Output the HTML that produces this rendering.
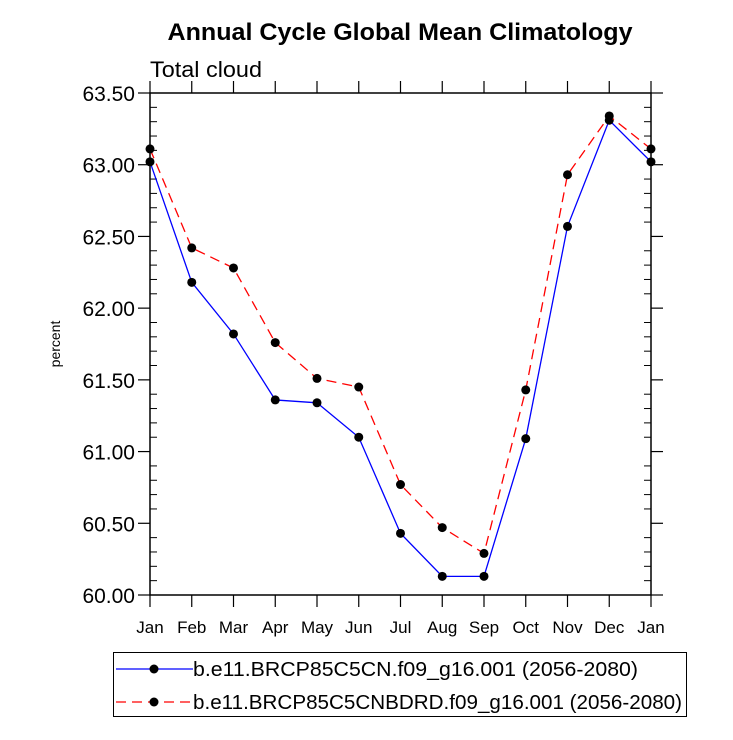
<!DOCTYPE html>
<html><head><meta charset="utf-8"><style>
body{margin:0;background:#fff;}
svg{display:block;font-family:"Liberation Sans",sans-serif;}
</style></head><body>
<svg id="c" width="733" height="740">
<text x="400" y="40" text-anchor="middle" font-size="24" font-weight="bold" textLength="465" lengthAdjust="spacingAndGlyphs">Annual Cycle Global Mean Climatology</text>
<text x="150" y="77" font-size="22" textLength="112" lengthAdjust="spacingAndGlyphs">Total cloud</text>
<text transform="translate(60,344) rotate(-90)" text-anchor="middle" font-size="14">percent</text>
<g id="axes"></g><g id="series"></g>
<g>
<rect x="113.5" y="652.5" width="573" height="64" fill="none" stroke="#000" stroke-width="1"/>
<line x1="116" y1="669" x2="193" y2="669" stroke="#0000ff" stroke-width="1.3"/>
<circle cx="154" cy="669" r="4.5" fill="#000"/>
<text x="193" y="676" font-size="20" textLength="445" lengthAdjust="spacingAndGlyphs">b.e11.BRCP85C5CN.f09_g16.001 (2056-2080)</text>
<line x1="116" y1="702" x2="193" y2="702" stroke="#ff0000" stroke-width="1.3" stroke-dasharray="10,6"/>
<circle cx="154" cy="702" r="4.5" fill="#000"/>
<text x="193" y="709" font-size="20" textLength="489" lengthAdjust="spacingAndGlyphs">b.e11.BRCP85C5CNBDRD.f09_g16.001 (2056-2080)</text>
</g>
</svg>
<script>
const months=["Jan","Feb","Mar","Apr","May","Jun","Jul","Aug","Sep","Oct","Nov","Dec","Jan"];
const blueVals=[63.02,62.18,61.82,61.36,61.34,61.10,60.43,60.13,60.13,61.09,62.57,63.31,63.02];
const redVals=[63.11,62.42,62.28,61.76,61.51,61.45,60.77,60.47,60.29,61.43,62.93,63.34,63.11];
const yTicks=["60.00","60.50","61.00","61.50","62.00","62.50","63.00","63.50"];
const L=150,R=651,T=93,B=595,ymin=60,ymax=63.5;
const X=i=>L+(R-L)*i/(months.length-1);
const Y=v=>B-(B-T)*(v-ymin)/(ymax-ymin);
const NS="http://www.w3.org/2000/svg";
function mk(tag,attrs,parent,txt){const e=document.createElementNS(NS,tag);for(const k in attrs)e.setAttribute(k,attrs[k]);if(txt!==undefined)e.textContent=txt;parent.appendChild(e);return e;}
const ax=document.getElementById('axes');
const fr=mk('rect',{x:L,y:T,width:R-L,height:B-T,fill:'none',stroke:'#000','stroke-width':1.5},ax);


months.forEach((m,i)=>{const x=X(i);
mk('line',{x1:x,y1:B,x2:x,y2:B+12,stroke:'#000','stroke-width':1.2},ax);
mk('line',{x1:x,y1:T,x2:x,y2:T-12,stroke:'#000','stroke-width':1.2},ax);
const t=mk('text',{x:x,y:B+38,'text-anchor':'middle','font-size':17},ax,m);

});
for(let k=0;k<=35;k++){const v=ymin+k*0.1,y=Y(v);
if(k%5===0){mk('line',{x1:L-12,y1:y,x2:L,y2:y,stroke:'#000','stroke-width':1.2},ax);mk('line',{x1:R,y1:y,x2:R+12,y2:y,stroke:'#000','stroke-width':1.2},ax);}
else{mk('line',{x1:L,y1:y,x2:L+7,y2:y,stroke:'#000','stroke-width':1},ax);mk('line',{x1:R-7,y1:y,x2:R,y2:y,stroke:'#000','stroke-width':1},ax);}}
yTicks.forEach(s=>{const t=mk('text',{x:L-15,y:Y(parseFloat(s))+8,'text-anchor':'end','font-size':21},ax,s);

});
const sg=document.getElementById('series');
function draw(vals,color,dash,name){
const pts=vals.map((v,i)=>X(i)+','+Y(v)).join(' ');
const pl=mk('polyline',{points:pts,fill:'none',stroke:color,'stroke-width':1.3,'stroke-dasharray':dash},sg);


vals.forEach((v,i)=>{const c=mk('circle',{cx:X(i),cy:Y(v),r:4.5,fill:'#000'},sg);

});}
draw(blueVals,'#0000ff','none','blue-series');
draw(redVals,'#ff0000','10,6','red-series');
</script>
</body></html>
